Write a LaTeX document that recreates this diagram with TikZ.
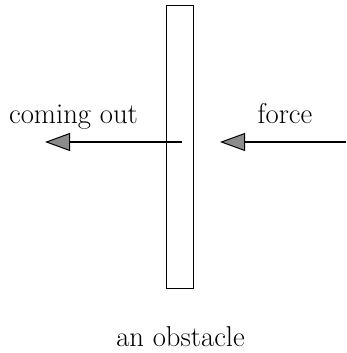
\documentclass[tikz,border=0pt]{standalone}
\usetikzlibrary{arrows.meta}
\tikzset{
  lbl/.style={font=\fontsize{28.7}{33}\selectfont, inner sep=0pt},
  push/.style={line width=2.6pt, -{Triangle[length=25pt,width=18pt,fill=black!45,line width=1pt]}},
}
\begin{document}
\begin{tikzpicture}[x=1pt,y=-1pt]
\useasboundingbox (0,0) rectangle (346,353);
\node[draw, line width=1pt, minimum width=27pt, minimum height=282pt, inner sep=0pt] (obstacle) at (179.5,147) {};
\coordinate (inA) at (182,142);
\coordinate (outA) at (45,142);
\coordinate (inB) at (346,142);
\coordinate (outB) at (220,142);
\draw[push] (inA) -- (outA);
\draw[push] (inB) -- (outB);
\node[lbl, anchor=base] (l1) at (73.5,123) {coming out};
\node[lbl, anchor=base] (l2) at (285,123) {force};
\node[lbl, anchor=base] (l3) at (180.5,346) {an obstacle};
\end{tikzpicture}
\end{document}
